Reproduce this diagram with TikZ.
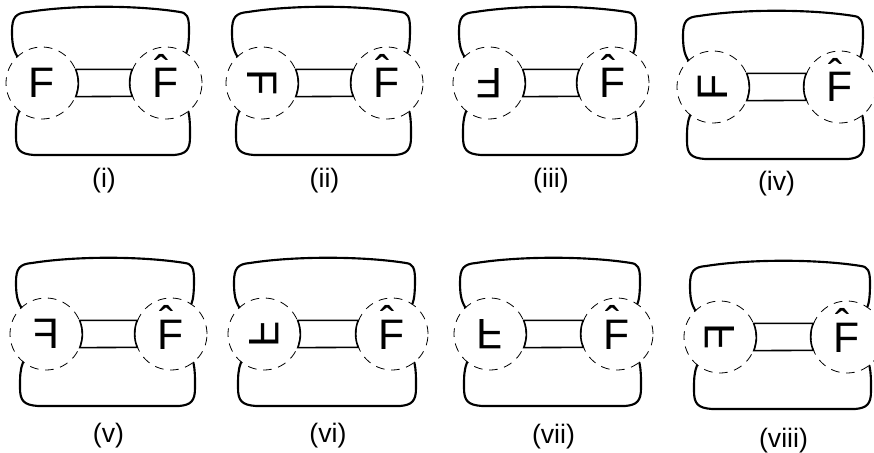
\documentclass[tikz,border=0pt]{standalone}
\usepackage{fontspec}
\setmainfont{Liberation Sans}

\begin{document}
\begin{tikzpicture}[x=0.75pt,y=-0.75pt,
    disc/.style={circle,draw,dash pattern=on 6.5pt off 5pt,line width=0.6pt,minimum size=54pt,inner sep=0pt},
    strand/.style={line width=1.6pt,line cap=round},
    band/.style={line width=1.2pt},
    glyph/.style={inner sep=0pt,font=\fontsize{32}{32}\selectfont},
    tag/.style={inner sep=0pt,font=\fontsize{20}{20}\selectfont}]
  \useasboundingbox (0,0) rectangle (874,453);
  \clip (0,0) rectangle (874,453);
  \foreach \x/\y/\dx/\ly/\g/\lab [count=\n] in {
      42/83/124/181/{F}/i,
      262/83/125/181/{\rotatebox{-90}{F}}/ii,
      489/83/124/181/{\rotatebox{180}{F}}/iii,
      713/87/127/184/{\rotatebox{90}{F}}/iv,
      46/334/125/436/{\scalebox{-1}[1]{F}}/v,
      264/334/128/436/{\rotatebox{-90}{\scalebox{-1}[1]{F}}}/vi,
      490/334/127/437/{\rotatebox{180}{\scalebox{-1}[1]{F}}}/vii,
      720/337/127/441/{\rotatebox{90}{\scalebox{-1}[1]{F}}}/viii}
  {
    \begin{scope}[shift={(\x,\y)}]
      \node[disc] (lft\n) at (0,0) {};
      \node[disc] (rgt\n) at (\dx,0) {};
      \node[glyph] (glyph\n) at (lft\n) {\g};
      \node[glyph,anchor=base] (hatF\n) at (\dx,15)
        {\makebox[0pt][l]{\kern0.03em\raisebox{0.3em}{\char"02C6}}F};
      % ribbon between the two discs
      \draw[band] (lft\n.22) -- (rgt\n.158) arc[start angle=158,end angle=202,radius=27pt]
        -- (lft\n.-22) arc[start angle=-22,end angle=22,radius=27pt] -- cycle;
      % outer strands
      \draw[strand] (lft\n.133) .. controls (-29,-34) and (-30,-40) .. (-30,-52)
        .. controls (-30,-66) and (-26,-70) .. (-14,-71)
        .. controls (30,-78) and (\dx-30,-78) .. (\dx+14,-71)
        .. controls (\dx+21,-70) and (\dx+23,-66) .. (\dx+23,-54)
        .. controls (\dx+23,-40) and (\dx+22,-34) .. (rgt\n.56);
      \draw[strand] (lft\n.-129) .. controls (-26,36) and (-26,42) .. (-26,54)
        .. controls (-26,67) and (-22,71) .. (-8,72) -- (\dx+8,72)
        .. controls (\dx+20,71) and (\dx+24,67) .. (\dx+24,54)
        .. controls (\dx+24,42) and (\dx+24,36) .. (rgt\n.-52);
    \end{scope}
    \node[tag] (cap\n) at (\x+\dx/2,\ly) {(\lab)};
  }
\end{tikzpicture}
\end{document}
